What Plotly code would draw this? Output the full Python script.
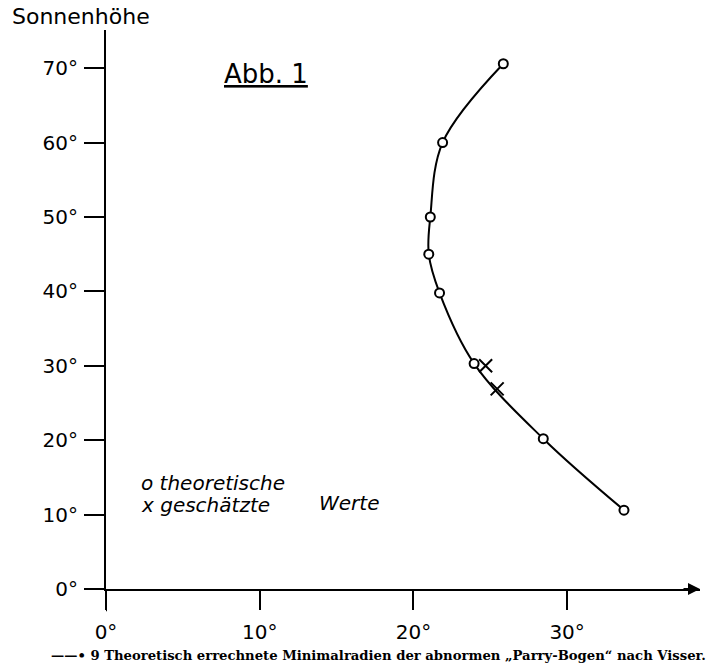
import plotly.graph_objects as go

# Data
theo_radius = [25.85, 21.9, 21.1, 21.0, 21.7, 23.95, 28.45, 33.7]   # Minimalradius (deg)
theo_hoehe = [70.6, 60.0, 50.0, 45.0, 39.8, 30.3, 20.2, 10.6]       # Sonnenhöhe (deg)
est_radius = [24.7, 25.45]
est_hoehe = [30.0, 26.9]

x_tickvals = [0, 10, 20, 30]
x_ticktext = ["0°", "10°", "20°", "30°"]
y_tickvals = [0, 10, 20, 30, 40, 50, 60, 70]
y_ticktext = ["0°", "10°", "20°", "30°", "40°", "50°", "60°", "70°"]

W, H = 711, 668
L, R, T, B = 106, 11, 30, 79
xmax = (W - L - R) / 15.37
ymax = (H - T - B) / 7.44

fig = go.Figure()
fig.add_trace(go.Scatter(
    x=theo_radius, y=theo_hoehe, mode="lines",
    line=dict(color="black", width=2, shape="spline", smoothing=1.0),
    hoverinfo="skip", showlegend=False))
fig.add_trace(go.Scatter(
    x=theo_radius, y=theo_hoehe, mode="markers", name="theoretische Werte",
    marker=dict(symbol="circle", size=9, color="white",
                line=dict(color="black", width=2)),
    showlegend=False))
fig.add_trace(go.Scatter(
    x=est_radius, y=est_hoehe, mode="markers", name="geschätzte Werte",
    marker=dict(symbol="x-thin-open", size=13, color="black",
                line=dict(color="black", width=2)),
    showlegend=False))

tickfont = dict(family="DejaVu Sans", size=20, color="black")
hand = dict(family="DejaVu Sans", size=20, color="black", style="italic")

fig.update_layout(
    width=W, height=H,
    margin=dict(l=L, r=R, t=T, b=B),
    paper_bgcolor="white", plot_bgcolor="white",
    xaxis=dict(range=[0, xmax], showgrid=False, zeroline=False,
               showline=True, linecolor="black", linewidth=2,
               ticks="outside", ticklen=19, tickwidth=2, tickcolor="black",
               tickvals=x_tickvals, ticktext=x_ticktext,
               tickfont=tickfont, ticklabelstandoff=5),
    yaxis=dict(range=[0, ymax], showgrid=False, zeroline=False,
               showline=True, linecolor="black", linewidth=2,
               ticks="outside", ticklen=20, tickwidth=2, tickcolor="black",
               tickvals=y_tickvals, ticktext=y_ticktext,
               tickfont=tickfont, ticklabelstandoff=2),
    annotations=[
        dict(text="Sonnenhöhe", xref="paper", yref="paper",
             x=-0.162, y=1.0, yshift=28, xanchor="left", yanchor="top",
             showarrow=False, font=dict(family="DejaVu Sans", size=22, color="black")),
        dict(text="<u>Abb. 1</u>", xref="x", yref="y", x=10.4, y=69.2,
             xanchor="center", yanchor="middle", showarrow=False,
             font=dict(family="DejaVu Sans", size=26, color="black")),
        dict(text="o theoretische", xref="x", yref="y", x=2.15, y=14.2,
             xanchor="left", yanchor="middle", showarrow=False, font=hand),
        dict(text="x geschätzte", xref="x", yref="y", x=2.15, y=11.3,
             xanchor="left", yanchor="middle", showarrow=False, font=hand),
        dict(text="Werte", xref="x", yref="y", x=13.7, y=11.5,
             xanchor="left", yanchor="middle", showarrow=False, font=hand),
        dict(text="——• 9 Theoretisch errechnete Minimalradien der abnormen „Parry-Bogen“ nach Visser.",
             xref="paper", yref="paper", x=0.458, y=0, yshift=-66,
             xanchor="center", yanchor="middle", showarrow=False,
             font=dict(family="DejaVu Serif", size=13.2, color="black", weight="bold")),
        dict(text="", xref="paper", yref="paper", x=1.0, y=0, ax=-18, ay=0,
             showarrow=True, arrowhead=2, arrowsize=1.2, arrowwidth=2,
             arrowcolor="black", axref="pixel", ayref="pixel"),
    ],
    shapes=[
        dict(type="line", xref="x", yref="paper", x0=0, x1=0, y0=0, y1=-0.04,
             line=dict(color="black", width=2)),
    ],
)

fig.write_html("out.html")
